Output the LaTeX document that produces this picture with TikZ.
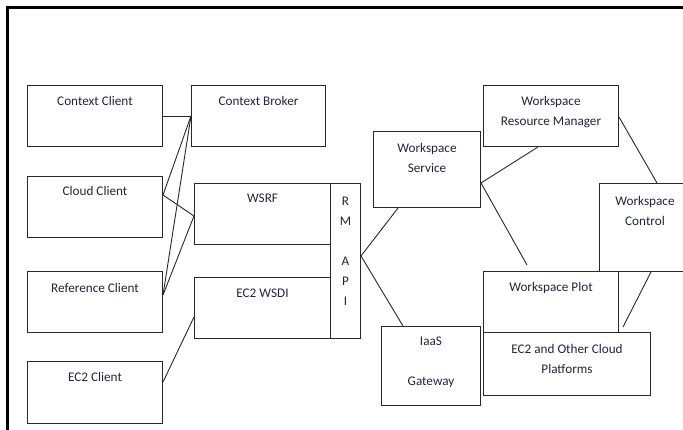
\documentclass[tikz,border=0pt]{standalone}
\usepackage{fontspec}
\setmainfont{Carlito}
\usetikzlibrary{calc}
\definecolor{txt}{RGB}{35,35,65}
\definecolor{ln}{RGB}{40,40,40}
\begin{document}
\begin{tikzpicture}[x=1pt,y=-1pt,
  box/.style={draw=ln, line width=1pt, rectangle, anchor=north west, inner sep=0pt},
  lbl/.style={text=txt, font=\fontsize{13.2}{20}\selectfont, align=center, inner sep=0pt},
  conn/.style={draw=ln, line width=0.9pt}]
\useasboundingbox (0,0) rectangle (683,430);
\begin{scope}
\clip (0,0) rectangle (683,430);
% outer frame
\draw[line width=3pt] (7.5,432) -- (7.5,7.5) -- (685,7.5);
% boxes
\node[box, minimum width=135pt, minimum height=61pt] (cc) at (27,85) {};
\node[box, minimum width=134pt, minimum height=61pt] (cb) at (191,85) {};
\node[box, minimum width=135pt, minimum height=61pt] (cl) at (27,176) {};
\node[box, minimum width=136pt, minimum height=61pt] (wsrf) at (194,183) {};
\node[box, minimum width=135pt, minimum height=61pt] (ref) at (27,271) {};
\node[box, minimum width=136pt, minimum height=61pt] (wsdi) at (194,277) {};
\node[box, minimum width=135pt, minimum height=62pt] (ec2c) at (27,361) {};
\node[box, minimum width=30pt, minimum height=155pt] (rm) at (330,183) {};
\node[box, minimum width=107pt, minimum height=76pt] (ws) at (373,131) {};
\node[box, minimum width=135pt, minimum height=61pt] (wrm) at (483,85) {};
\node[box, minimum width=91pt, minimum height=88pt] (wc) at (599,183) {};
\node[box, minimum width=135pt, minimum height=61pt] (wp) at (483,271) {};
\node[box, minimum width=167pt, minimum height=63pt] (ec2o) at (483,332) {};
\node[box, minimum width=99pt, minimum height=79pt] (iaas) at (381,326) {};
% labels
\node[lbl] (tcc) at ([yshift=-16pt]cc.north) {Context Client};
\node[lbl] (tcb) at ([yshift=-16pt]cb.north) {Context Broker};
\node[lbl] (tcl) at ([yshift=-15pt]cl.north) {Cloud Client};
\node[lbl] (twsrf) at ([yshift=-15pt]wsrf.north) {WSRF};
\node[lbl] (tref) at ([yshift=-17pt]ref.north) {Reference Client};
\node[lbl] (twsdi) at ([yshift=-16pt]wsdi.north) {EC2 WSDI};
\node[lbl] (tec2c) at ([yshift=-16pt]ec2c.north) {EC2 Client};
\node[lbl] (trm) at ([yshift=-68pt]rm.north) {R\\M\\[20pt]A\\P\\I};
\node[lbl] (tws) at ([yshift=-26.5pt]ws.north) {Workspace\\Service};
\node[lbl] (twrm) at ([yshift=-27.5pt]wrm.north) {Workspace\\Resource Manager};
\node[lbl] (twc) at ([yshift=-27.5pt]wc.north) {Workspace\\Control};
\node[lbl] (twp) at ([yshift=-17pt]wp.north) {Workspace Plot};
\node[lbl] (tec2o) at ([yshift=-27pt]ec2o.north) {EC2 and Other Cloud\\Platforms};
\node[lbl] (tiaas) at ([yshift=-36.5pt]iaas.north) {IaaS\\[20pt]Gateway};
% connector points
\coordinate (clr) at ([yshift=-19pt]cl.north east);
\coordinate (refr) at ([yshift=-24pt]ref.north east);
\coordinate (wsrfl) at ([yshift=-33pt]wsrf.north west);
\coordinate (ec2cr) at ([yshift=-21pt]ec2c.north east);
\coordinate (wsdil) at ([yshift=-40pt]wsdi.north west);
\coordinate (rmr) at ([yshift=-73pt]rm.north east);
\coordinate (wsb) at ([xshift=25pt]ws.south west);
\coordinate (iaast) at ([xshift=22pt]iaas.north west);
\coordinate (wsr) at ([yshift=-52pt]ws.north east);
\coordinate (wrmb) at ([xshift=55pt]wrm.south west);
\coordinate (wpend) at ([xshift=44pt,yshift=6pt]wp.north west);
\coordinate (wrmr) at ([yshift=-32pt]wrm.north east);
\coordinate (wct) at ([xshift=58pt]wc.north west);
\coordinate (wcb) at ([xshift=52pt]wc.south west);
\coordinate (wcend) at ([xshift=-28pt,yshift=5pt]ec2o.north east);
% connectors
\draw[conn] (cc.east) -- (cb.west);
\draw[conn] (cb.west) -- (clr);
\draw[conn] (cb.west) -- (refr);
\draw[conn] (clr) -- (wsrfl);
\draw[conn] (wsrfl) -- (refr);
\draw[conn] (ec2cr) -- (wsdil);
\draw[conn] (rmr) -- (wsb);
\draw[conn] (rmr) -- (iaast);
\draw[conn] (wsr) -- (wrmb);
\draw[conn] (wsr) -- (wpend);
\draw[conn] (wrmr) -- (wct);
\draw[conn] (wcb) -- (wcend);
\end{scope}
\end{tikzpicture}
\end{document}
